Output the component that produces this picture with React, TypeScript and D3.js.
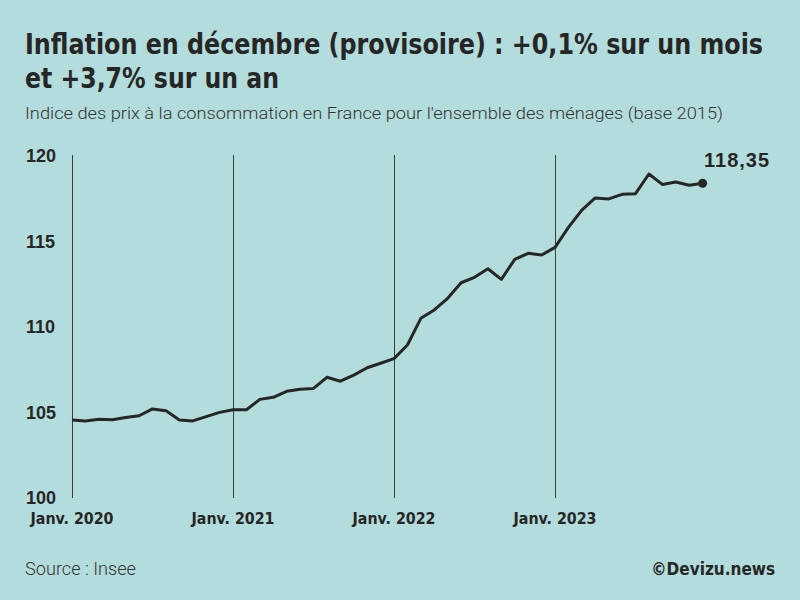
import React from "react";
import * as d3 from "d3";

const years = ["2020", "2021", "2022", "2023"];
const xTickLabels = ["Janv. 2020", "Janv. 2021", "Janv. 2022", "Janv. 2023"];
const yTicks = [100, 105, 110, 115, 120];
const cpi2020 = [104.5, 104.45, 104.55, 104.52, 104.65, 104.75, 105.15, 105.05, 104.5, 104.45, 104.7, 104.95];
const cpi2021 = [105.1, 105.1, 105.71, 105.83, 106.18, 106.3, 106.35, 107.0, 106.77, 107.13, 107.56, 107.82];
const cpi2022 = [108.09, 108.89, 110.45, 110.94, 111.62, 112.53, 112.85, 113.35, 112.73, 113.9, 114.25, 114.15];
const cpi2023 = [114.6, 115.77, 116.78, 117.49, 117.43, 117.7, 117.74, 118.89, 118.28, 118.42, 118.23, 118.35];
const lastLabel = "118,35";

const values = [...cpi2020, ...cpi2021, ...cpi2022, ...cpi2023];

const W = 800, H = 600;
const bg = "#b3dcdc";
const ink = "#262626";

export default function App() {
  const x = d3.scaleLinear().domain([0, 36]).range([72, 555]);
  const y = d3.scaleLinear().domain([100, 120]).range([497, 155]);
  const line = d3.line<number>().x((_, i) => x(i)).y((v) => y(v));
  const lastI = values.length - 1;
  const narrow = "'Liberation Sans Narrow', 'DejaVu Sans Condensed', 'Liberation Sans', sans-serif";
  const light = "Roboto, 'Liberation Sans', sans-serif";
  const bold = "'Liberation Sans', Arial, sans-serif";
  return (
    <svg width={W} height={H} style={{ position: "absolute", left: 0, top: 0, display: "block" }}>
      <rect width={W} height={H} fill={bg} />
      <text x={25} y={54} fontFamily={narrow} fontWeight={700} fontSize={29} fill={ink} textLength={738} lengthAdjust="spacingAndGlyphs">
        Inflation en décembre (provisoire) : +0,1% sur un mois
      </text>
      <text x={25} y={88} fontFamily={narrow} fontWeight={700} fontSize={29} fill={ink} textLength={254} lengthAdjust="spacingAndGlyphs">
        et +3,7% sur un an
      </text>
      <text x={25} y={119} fontFamily={light} fontWeight={300} fontSize={17} fill="#333" textLength={698} lengthAdjust="spacingAndGlyphs">
        Indice des prix à la consommation en France pour l'ensemble des ménages (base 2015)
      </text>
      {years.map((yr, k) => (
        <g key={yr}>
          <line x1={Math.round(x(k * 12)) + 0.5} x2={Math.round(x(k * 12)) + 0.5} y1={y(120)} y2={498} stroke="#3c3c3c" strokeWidth={1} />
          <text x={x(k * 12)} y={524} textAnchor="middle" fontFamily={narrow} fontWeight={700} fontSize={16} fill={ink} textLength={83} lengthAdjust="spacingAndGlyphs">
            {xTickLabels[k]}
          </text>
        </g>
      ))}
      {yTicks.map((t) => (
        <text key={t} x={26} y={y(t) + 7} fontFamily={bold} fontWeight={700} fontSize={18} fill={ink}>
          {t}
        </text>
      ))}
      <path d={line(values) || ""} fill="none" stroke={ink} strokeWidth={3} strokeLinejoin="round" />
      <circle cx={x(lastI)} cy={y(values[lastI])} r={4.5} fill={ink} />
      <text x={704} y={167} fontFamily={bold} fontWeight={700} fontSize={20} fill={ink} letterSpacing={1}>
        {lastLabel}
      </text>
      <text x={25} y={575} fontFamily={light} fontWeight={300} fontSize={18} fill="#333" textLength={111} lengthAdjust="spacingAndGlyphs">
        Source : Insee
      </text>
      <text x={775} y={575} textAnchor="end" fontFamily={narrow} fontWeight={700} fontSize={17} fill={ink}>
        ©Devizu.news
      </text>
    </svg>
  );
}
